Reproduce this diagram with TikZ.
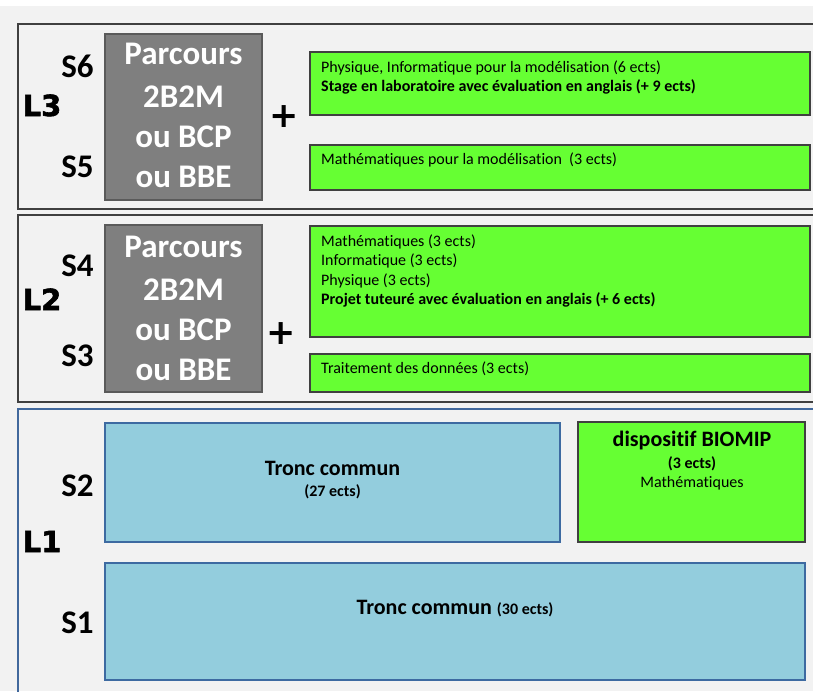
\documentclass[tikz,border=0pt]{standalone}
\usepackage{fontspec}
\setmainfont{Carlito}[Ligatures=NoCommon]
\newfontfamily\heavy{DejaVu Sans}[BoldFeatures={FakeBold=2}]
\newfontfamily\plusfont{DejaVu Sans}
\definecolor{bgc}{HTML}{F2F2F2}
\definecolor{panelc}{HTML}{404040}
\definecolor{paneblue}{HTML}{41689C}
\definecolor{grayfill}{HTML}{7F7F7F}
\definecolor{grayedge}{HTML}{5A5A5A}
\definecolor{greenfill}{HTML}{66FF33}
\definecolor{greenedge}{HTML}{404040}
\definecolor{bluefill}{HTML}{93CDDD}
\definecolor{blueedge}{HTML}{3D6AA1}
\tikzset{
  panel/.style={draw=panelc, line width=2pt},
  panelb/.style={draw=paneblue, line width=2pt},
  graybox/.style={draw=grayedge, fill=grayfill, line width=2pt, inner sep=0pt, minimum width=157pt},
  greenbox/.style={draw=greenedge, fill=greenfill, line width=2.5pt, inner sep=0pt},
  bluebox/.style={draw=blueedge, fill=bluefill, line width=2.5pt, inner sep=0pt},
  sem/.style={font=\fontsize{33}{40}\selectfont\bfseries, anchor=base, inner sep=0pt},
  lvl/.style={font=\heavy\fontsize{29}{35}\selectfont\bfseries, anchor=base, inner sep=0pt},
  partxt/.style={font=\fontsize{33}{40}\selectfont\bfseries, text=white, anchor=base, inner sep=0pt},
  plussign/.style={font=\plusfont\fontsize{35}{40}\selectfont\bfseries, inner sep=0pt},
  smalltxt/.style={font=\fontsize{16}{19}\selectfont, anchor=base west, inner sep=0pt},
  smallbold/.style={font=\fontsize{16}{19}\selectfont\bfseries, anchor=base west, inner sep=0pt},
  bigtxt/.style={font=\fontsize{22}{26}\selectfont\bfseries, anchor=base, inner sep=0pt},
  midbold/.style={font=\fontsize{16}{19}\selectfont\bfseries, anchor=base, inner sep=0pt},
  midtxt/.style={font=\fontsize{16}{19}\selectfont, anchor=base, inner sep=0pt}
}
\begin{document}
\begin{tikzpicture}[x=1pt,y=-1pt]
\useasboundingbox (0,0) rectangle (813,691);
\fill[white] (0,0) rectangle (813,691);
\fill[bgc] (0,6) rectangle (813,691);
% panels
\draw[panel] (816,24) -- (18,24) -- (18,209) -- (816,209);
\draw[panel] (816,215) -- (18,215) -- (18,402) -- (816,402);
\draw[panelb] (816,409) -- (18,409) -- (18,694);

% ---------- L3 ----------
\node[graybox, minimum height=166pt] (g3) at (183.5,117) {};
\node[partxt] (g3a) at (183.5,64) {Parcours};
\node[partxt] (g3b) at (183.5,107) {2B2M};
\node[partxt] (g3c) at (183.5,147.5) {ou BCP};
\node[partxt] (g3d) at (183.5,187.5) {ou BBE};
\node[sem] (s6) at (77.5,77) {S6};
\node[sem] (s5) at (77.5,177) {S5};
\node[lvl] (l3) at (42,116) {L3};
\node[plussign] (p3) at (284,117) {+};
\node[greenbox, minimum width=500pt, minimum height=63pt] (gA) at (560,83.5) {};
\node[smalltxt] (gA1) at (321,72.3) {Physique, Informatique pour la modélisation (6 ects)};
\node[smallbold] (gA2) at (321,91.7) {Stage en laboratoire avec évaluation en anglais (+ 9 ects)};
\node[greenbox, minimum width=500pt, minimum height=45pt] (gB) at (560,167.5) {};
\node[smalltxt] (gB1) at (321,164) {Mathématiques pour la modélisation\ \ (3 ects)};

% ---------- L2 ----------
\node[graybox, minimum height=167pt] (g2) at (183.5,308.5) {};
\node[partxt] (g2a) at (183.5,257) {Parcours};
\node[partxt] (g2b) at (183.5,300) {2B2M};
\node[partxt] (g2c) at (183.5,340) {ou BCP};
\node[partxt] (g2d) at (183.5,380) {ou BBE};
\node[sem] (s4) at (77.5,276) {S4};
\node[sem] (s3) at (77.5,366) {S3};
\node[lvl] (l2) at (42,310) {L2};
\node[plussign] (p2) at (281,334) {+};
\node[greenbox, minimum width=500pt, minimum height=111pt] (gC) at (560,281.5) {};
\node[smalltxt] (gC1) at (321,246) {Mathématiques (3 ects)};
\node[smalltxt] (gC2) at (321,265.5) {Informatique (3 ects)};
\node[smalltxt] (gC3) at (321,285) {Physique (3 ects)};
\node[smallbold] (gC4) at (321,304.3) {Projet tuteuré avec évaluation en anglais (+ 6 ects)};
\node[greenbox, minimum width=500pt, minimum height=38pt] (gD) at (560,373) {};
\node[smalltxt] (gD1) at (321,373.3) {Traitement des données (3 ects)};

% ---------- L1 ----------
\node[bluebox, minimum width=455pt, minimum height=119pt] (tA) at (332.5,482.5) {};
\node[bigtxt] (tA1) at (332.5,475) {Tronc commun};
\node[midbold] (tA2) at (332.5,496) {(27 ects)};
\node[greenbox, minimum width=227pt, minimum height=120pt] (bio) at (691.5,482) {};
\node[bigtxt] (bio1) at (692,446) {dispositif BIOMIP};
\node[midbold] (bio2) at (692,468) {(3 ects)};
\node[midtxt] (bio3) at (692,487) {Mathématiques};
\node[bluebox, minimum width=700pt, minimum height=117pt] (tB) at (455,621.5) {};
\node[bigtxt] (tB1) at (455,614) {Tronc commun {\fontsize{16}{19}\selectfont (30 ects)}};
\node[sem] (s2) at (77.5,496) {S2};
\node[sem] (s1) at (77.5,633) {S1};
\node[lvl] (l1) at (42,552) {L1};
\end{tikzpicture}
\end{document}
